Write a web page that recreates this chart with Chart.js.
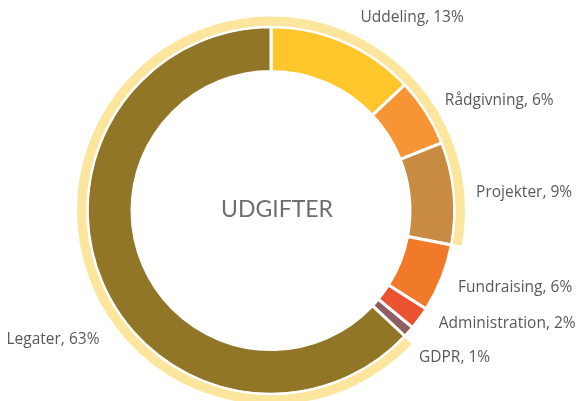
<!DOCTYPE html>
<html>
<head>
<meta charset="utf-8">
<script src="https://cdn.jsdelivr.net/npm/chart.js@4.4.1/dist/chart.umd.min.js"></script>
<style>
  html, body { margin: 0; padding: 0; background: #ffffff; overflow: hidden; }
  #wrap { position: relative; width: 576px; height: 421px; }
</style>
</head>
<body>
<div id="wrap"><canvas id="c"></canvas></div>
<script>
// ---- data ----
const categories = ['Uddeling', 'Rådgivning', 'Projekter', 'Fundraising', 'Administration', 'GDPR', 'Legater'];
const values = [13, 6, 9, 6, 2, 1, 63];
const sliceColors = ['#FFC72C', '#F79433', '#C98A42', '#F07A2A', '#EA5230', '#8E6063', '#917628'];
// outer highlight ring: starts at Legater, wraps over Uddeling..Projekter, then a gap
const ringValues = [91, 9];
const ringColors = ['#FCE59C', 'rgba(0,0,0,0)'];
const ringStartIndex = 6; // ring begins where this slice begins
const centerTitle = 'UDGIFTER';
// label nudges (px) relative to anchor point on each slice's mid angle
const labelNudgeX = [10, 5, 6, 1, 6, -2, 12];
const labelNudgeY = [-9, -3, 1, 3, -4, 15, 50];

const totalValue = values.reduce((a, b) => a + b, 0);
const ringRotation = values.slice(0, ringStartIndex).reduce((a, b) => a + b, 0) / totalValue * 360;

const labelPlugin = {
  id: 'sliceLabels',
  afterDraw(chart) {
    const ctx = chart.ctx;
    const meta = chart.getDatasetMeta(1);
    ctx.save();
    ctx.font = '15.5px "Open Sans"';
    ctx.fillStyle = '#595959';
    ctx.textBaseline = 'middle';
    meta.data.forEach((arc, i) => {
      const mid = (arc.startAngle + arc.endAngle) / 2;
      const r = 200;
      const x = arc.x + Math.cos(mid) * r + labelNudgeX[i];
      const y = arc.y + Math.sin(mid) * r + labelNudgeY[i];
      const onRight = Math.cos(mid) >= 0;
      ctx.textAlign = onRight ? 'left' : 'right';
      const pct = Math.round(values[i] / totalValue * 100);
      ctx.fillText(categories[i] + ', ' + pct + '%', x, y);
    });
    const a0 = meta.data[0];
    ctx.font = '23px Lato';
    ctx.fillStyle = '#6E6E6E';
    ctx.textAlign = 'center';
    ctx.textBaseline = 'middle';
    ctx.fillText(centerTitle, a0.x + 6, a0.y - 1);
    ctx.restore();
  }
};

new Chart(document.getElementById('c'), {
  type: 'doughnut',
  data: {
    labels: categories,
    datasets: [
      {
        data: ringValues,
        backgroundColor: ringColors,
        borderColor: '#ffffff',
        borderWidth: 2,
        rotation: ringRotation,
        weight: 11.5
      },
      {
        data: values,
        backgroundColor: sliceColors,
        borderColor: '#ffffff',
        borderWidth: 3,
        weight: 45.5
      }
    ]
  },
  options: {
    responsive: true,
    maintainAspectRatio: false,
    animation: false,
    cutout: 139,
    layout: { padding: { top: 14.5, bottom: 14.5, left: 0, right: 34 } },
    plugins: {
      legend: { display: false },
      tooltip: { enabled: false }
    }
  },
  plugins: [labelPlugin]
});
</script>
</body>
</html>
